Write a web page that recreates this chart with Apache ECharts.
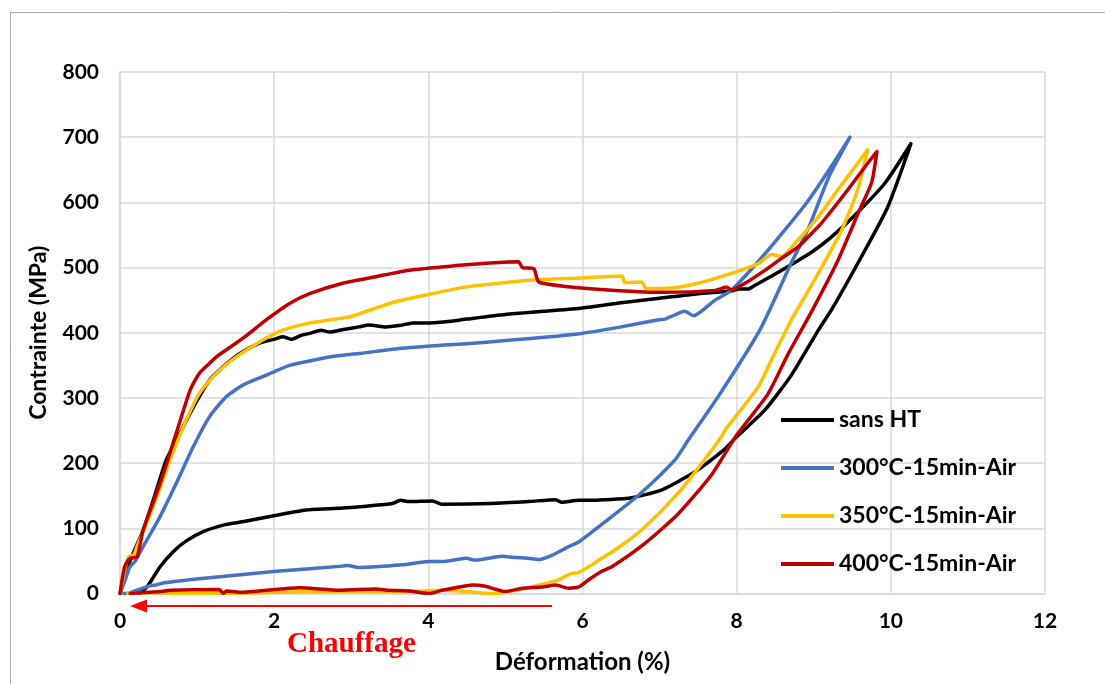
<!DOCTYPE html>
<html><head><meta charset="utf-8">
<script src="https://cdn.jsdelivr.net/npm/echarts@6/dist/echarts.min.js"></script>
<style>html,body{margin:0;padding:0;background:#fff}#c{width:1105px;height:684px}</style>
</head><body><div id="c"></div>
<script>
const seriesNames = ['sans HT', '300°C-15min-Air', '350°C-15min-Air', '400°C-15min-Air'];
const seriesColors = ['#000000', '#4472C4', '#FFC000', '#C00000'];
const xAxisTitle = 'Déformation (%)';
const yAxisTitle = 'Contrainte (MPa)';
const annotationText = 'Chauffage';

// sans HT : loading then unloading [strain %, stress MPa]
const sansHT = [
  [0,0],[0.13,50],[0.30,97],[0.45,150],[0.60,205],[0.72,232],[0.82,256],[0.99,294],[1.16,327],[1.34,348],
  [1.55,368],[1.81,384],[2.03,391],[2.11,394],[2.22,390],[2.35,396],[2.46,399],[2.61,404],[2.72,401],[2.90,405],
  [3.10,409],[3.23,412],[3.45,409],[3.62,411],[3.80,415],[3.97,415],[4.23,417],[4.50,421],[5.0,428],[5.5,433],
  [6.0,438],[6.5,446],[7.0,453],[7.5,460],[7.93,464],[8.03,467],[8.15,467],[8.24,473],[8.5,490],[8.8,511],
  [8.99,525],[9.22,546],[9.53,580],[9.92,629],[10.26,690],
  [9.96,593],[9.62,517],[9.23,435],[9.06,404],[8.71,335],[8.37,282],[7.98,238],[7.85,222],[7.46,187],[7.03,159],
  [6.60,146],[6.30,144],[6.12,143],[5.95,143],[5.73,140],[5.65,144],[5.30,141],[4.80,138],[4.18,137],[4.05,142],
  [3.75,141],[3.64,143],[3.53,138],[3.20,134],[2.89,131],[2.70,130],[2.41,128],[2.03,120],[1.59,110],[1.38,106],
  [1.08,95],[0.85,80],[0.69,64],[0.52,41],[0.35,10],[0.25,0]
];
// 300°C-15min-Air
const ht300 = [
  [0,0],[0.05,15],[0.13,41],[0.20,50],[0.30,72],[0.52,118],[0.73,169],[0.95,225],[1.16,271],[1.38,302],
  [1.60,320],[1.90,335],[2.20,350],[2.63,361],[2.85,365],[3.10,368],[3.62,376],[4.18,381],[4.50,383],[5.0,388],
  [5.5,393],[5.99,399],[6.5,409],[6.99,420],[7.07,421],[7.33,433],[7.44,426],[7.72,450],[7.93,465],[8.30,512],
  [8.62,557],[8.93,603],[9.20,650],[9.47,700],
  [9.20,640],[8.93,560],[8.70,505],[8.30,404],[7.76,302],[7.37,235],[7.20,205],[6.73,151],[6.38,118],[5.95,79],
  [5.82,72],[5.61,59],[5.43,52],[5.30,54],[5.05,56],[4.96,57],[4.61,51],[4.49,54],[4.18,49],[4.01,49],
  [3.67,44],[3.10,40],[2.95,43],[2.89,42],[2.03,34],[1.16,24],[0.56,16],[0.47,13],[0.39,12],[0.13,1],[0.05,0]
];
// 350°C-15min-Air
const ht350 = [
  [0,0],[0.06,35],[0.11,56],[0.18,60],[0.22,72],[0.43,133],[0.65,205],[0.86,266],[1.03,307],[1.25,338],
  [1.51,363],[1.81,386],[2.03,400],[2.11,404],[2.42,414],[2.80,421],[3.0,425],[3.32,438],[3.62,449],[3.97,458],
  [4.48,470],[5.0,477],[5.35,481],[5.99,484],[6.51,487],[6.55,477],[6.77,478],[6.82,468],[7.07,468],[7.50,476],
  [7.93,491],[8.28,506],[8.45,520],[8.58,517],[8.80,543],[9.06,578],[9.31,619],[9.57,660],[9.70,681],
  [9.57,619],[9.36,557],[9.01,481],[8.71,420],[8.45,358],[8.28,317],[7.85,251],[7.80,240],[7.55,200],[7.24,154],
  [6.81,102],[6.51,74],[6.21,51],[5.95,32],[5.86,31],[5.69,21],[5.61,18],[5.26,8],[4.83,0],[4.60,2],
  [4.18,5],[3.62,3],[2.46,3],[1.38,0],[0.25,1],[0.10,0]
];
// 400°C-15min-Air
const ht400 = [
  [0,0],[0.06,41],[0.13,54],[0.22,56],[0.30,97],[0.52,169],[0.73,246],[0.91,312],[1.03,338],[1.16,353],
  [1.25,363],[1.60,392],[1.90,420],[2.20,445],[2.46,460],[2.89,476],[3.32,486],[3.75,496],[4.36,503],[4.80,507],
  [5.17,509],[5.22,500],[5.37,498],[5.43,478],[5.78,471],[6.43,465],[7.07,462],[7.72,465],[7.87,470],[7.93,466],
  [8.11,476],[8.37,496],[8.58,514],[8.80,532],[9.01,557],[9.10,568],[9.44,619],[9.70,660],[9.82,678],
  [9.75,630],[9.60,590],[9.31,510],[8.97,432],[8.67,368],[8.40,305],[8.00,243],[7.68,183],[7.24,122],[6.81,77],
  [6.38,41],[6.25,34],[6.08,21],[5.95,10],[5.82,8],[5.65,13],[5.48,10],[5.22,8],[5.00,3],[4.74,11],
  [4.57,13],[4.40,10],[4.18,5],[4.01,0],[3.75,4],[3.49,5],[3.32,7],[2.85,5],[2.33,9],[1.55,2],
  [1.38,4],[1.34,0],[1.29,6],[0.65,5],[0.52,3],[0.13,0]
];
const allData = [sansHT, ht300, ht350, ht400];

const chart = echarts.init(document.getElementById('c'), null, {renderer: 'canvas'});
const FONT = 'Lato';
chart.setOption({
  animation: false,
  backgroundColor: '#ffffff',
  grid: {left: 120, top: 72, right: 60, bottom: 90.5, containLabel: false},
  xAxis: {
    type: 'value', min: 0, max: 12, interval: 2,
    name: xAxisTitle, nameLocation: 'middle', nameGap: 57,
    nameTextStyle: {fontFamily: FONT, fontWeight: 'bold', fontSize: 24, color: '#000'},
    axisLine: {show: true, lineStyle: {color: '#d9d9d9', width: 1.5}},
    axisTick: {show: false},
    axisLabel: {fontFamily: FONT, fontWeight: 'bold', fontSize: 21, color: '#000', margin: 17},
    splitLine: {show: true, lineStyle: {color: '#d9d9d9', width: 1.5}}
  },
  yAxis: {
    type: 'value', min: 0, max: 800, interval: 100,
    name: yAxisTitle, nameLocation: 'middle', nameGap: 70,
    nameTextStyle: {fontFamily: FONT, fontWeight: 'bold', fontSize: 23, color: '#000'},
    axisLine: {show: true, lineStyle: {color: '#d9d9d9', width: 1.5}},
    axisTick: {show: false},
    axisLabel: {fontFamily: FONT, fontWeight: 'bold', fontSize: 21, color: '#000', margin: 21},
    splitLine: {show: true, lineStyle: {color: '#d9d9d9', width: 1.5}}
  },
  legend: {
    orient: 'vertical', left: 781, top: 407, padding: 0,
    itemWidth: 53, itemHeight: 4, itemGap: 22, icon: 'rect',
    textStyle: {fontFamily: FONT, fontWeight: 'bold', fontSize: 23, color: '#000', lineHeight: 26},
    data: seriesNames
  },
  series: allData.map((d, i) => ({
    name: seriesNames[i], type: 'line', data: d,
    showSymbol: false, symbol: 'none', smooth: 0.2,
    lineStyle: {color: seriesColors[i], width: 3.5, join: 'round', cap: 'round'},
    itemStyle: {color: seriesColors[i]},
    z: 2 + i
  })),
  graphic: [
    {type: 'rect', shape: {x: 10.5, y: 12.5, width: 1200, height: 800}, style: {fill: 'none', stroke: '#a6a6a6', lineWidth: 1}, silent: true},
    {type: 'line', shape: {x1: 552, y1: 606, x2: 144, y2: 606}, style: {stroke: '#ff0000', lineWidth: 2}, silent: true},
    {type: 'polygon', shape: {points: [[130, 606], [147, 599.5], [147, 612.5]]}, style: {fill: '#ff0000'}, silent: true},
    {type: 'text', left: 287, top: 630, style: {text: annotationText, fill: '#ff0000', font: 'bold 29px "Liberation Serif", "Times New Roman", serif'}, silent: true}
  ]
});
</script>
</body></html>
